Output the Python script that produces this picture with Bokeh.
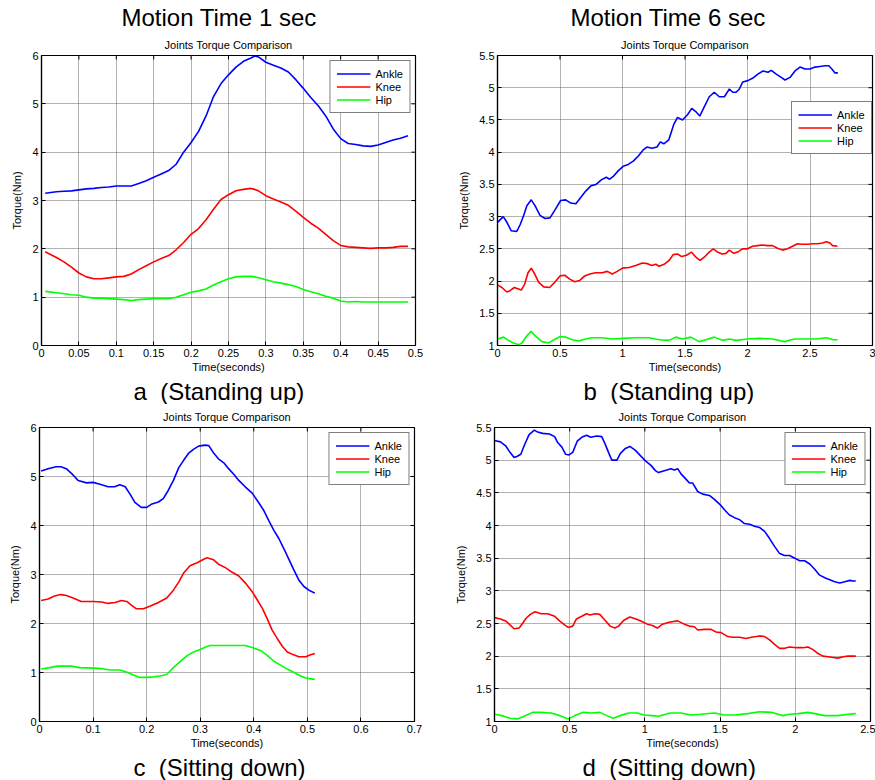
import math
from bokeh.plotting import figure
from bokeh.models import Range1d, FixedTicker, Title, Legend, LegendItem
from bokeh.layouts import column, row
from bokeh.embed import file_html
from bokeh.resources import INLINE

FONT = "Liberation Sans"
SERIES = ["Ankle", "Knee", "Hip"]
COLORS = ["#0000FF", "#FF0000", "#00FF00"]

# ---------------- panel a : Motion Time 1 sec, standing up ----------------
a_t = [0.005, 0.01, 0.02, 0.03, 0.04, 0.05, 0.06, 0.07, 0.08, 0.09, 0.10, 0.11, 0.12, 0.13,
       0.14, 0.15, 0.16, 0.17, 0.18, 0.19, 0.20, 0.21, 0.22, 0.23, 0.24, 0.25, 0.26, 0.27,
       0.28, 0.285, 0.29, 0.30, 0.31, 0.32, 0.33, 0.34, 0.35, 0.36, 0.37, 0.38, 0.39, 0.40,
       0.41, 0.42, 0.43, 0.44, 0.45, 0.46, 0.47, 0.48, 0.49]
a_ankle = [3.15, 3.16, 3.18, 3.19, 3.20, 3.22, 3.24, 3.25, 3.27, 3.28, 3.30, 3.30, 3.30, 3.35,
           3.41, 3.48, 3.55, 3.62, 3.75, 4.00, 4.20, 4.43, 4.75, 5.15, 5.42, 5.60, 5.76, 5.88,
           5.95, 5.99, 5.97, 5.86, 5.80, 5.74, 5.66, 5.50, 5.32, 5.13, 4.96, 4.75, 4.48, 4.28,
           4.18, 4.16, 4.13, 4.12, 4.15, 4.20, 4.25, 4.29, 4.34]
a_knee = [1.94, 1.90, 1.82, 1.73, 1.62, 1.50, 1.42, 1.38, 1.38, 1.40, 1.42, 1.43, 1.48, 1.57,
          1.65, 1.73, 1.80, 1.86, 1.98, 2.13, 2.30, 2.42, 2.60, 2.82, 3.02, 3.12, 3.20, 3.23,
          3.25, 3.23, 3.20, 3.10, 3.03, 2.97, 2.90, 2.78, 2.65, 2.53, 2.43, 2.30, 2.17, 2.07,
          2.04, 2.03, 2.02, 2.01, 2.02, 2.02, 2.03, 2.05, 2.05]
a_hip = [1.12, 1.11, 1.09, 1.07, 1.05, 1.04, 1.00, 0.98, 0.98, 0.97, 0.96, 0.95, 0.93, 0.95,
         0.96, 0.97, 0.97, 0.97, 1.00, 1.05, 1.10, 1.13, 1.17, 1.25, 1.32, 1.38, 1.42, 1.43,
         1.43, 1.42, 1.40, 1.36, 1.32, 1.29, 1.26, 1.22, 1.16, 1.11, 1.07, 1.02, 0.98, 0.92,
         0.90, 0.91, 0.90, 0.90, 0.90, 0.90, 0.90, 0.90, 0.90]
a_xticks = [0, 0.05, 0.1, 0.15, 0.2, 0.25, 0.3, 0.35, 0.4, 0.45, 0.5]
a_yticks = [0, 1, 2, 3, 4, 5, 6]

# ---------------- panel b : Motion Time 6 sec, standing up ----------------
b_ankle_t = [0.0, 0.046, 0.073, 0.11, 0.154, 0.18, 0.21, 0.235, 0.27, 0.30, 0.34, 0.38, 0.42,
             0.465, 0.505, 0.546, 0.586, 0.627, 0.667, 0.708, 0.749, 0.789, 0.83, 0.87, 0.897,
             0.924, 0.965, 1.005, 1.046, 1.086, 1.127, 1.168, 1.195, 1.235, 1.276, 1.303, 1.33,
             1.37, 1.41, 1.44, 1.48, 1.52, 1.554, 1.586, 1.618, 1.653, 1.694, 1.734, 1.774,
             1.815, 1.855, 1.882, 1.909, 1.935, 1.962, 2.003, 2.043, 2.083, 2.124, 2.164, 2.19,
             2.23, 2.27, 2.30, 2.34, 2.38, 2.42, 2.46, 2.50, 2.54, 2.58, 2.62, 2.65, 2.675,
             2.70, 2.723]
b_ankle = [2.91, 3.00, 2.92, 2.78, 2.77, 2.87, 3.02, 3.17, 3.26, 3.17, 3.02, 2.97, 2.98, 3.12,
           3.25, 3.26, 3.21, 3.20, 3.30, 3.40, 3.48, 3.50, 3.57, 3.61, 3.58, 3.62, 3.71, 3.78,
           3.81, 3.86, 3.94, 4.04, 4.08, 4.06, 4.08, 4.16, 4.13, 4.19, 4.43, 4.54, 4.50, 4.58,
           4.68, 4.63, 4.56, 4.70, 4.86, 4.93, 4.86, 4.86, 4.98, 4.93, 4.93, 4.98, 5.09, 5.11,
           5.15, 5.21, 5.26, 5.24, 5.27, 5.21, 5.16, 5.12, 5.16, 5.26, 5.32, 5.29, 5.29, 5.32,
           5.33, 5.34, 5.34, 5.29, 5.23, 5.23]
b_knee_t = [0.0, 0.035, 0.075, 0.10, 0.134, 0.163, 0.19, 0.217, 0.244, 0.27, 0.297, 0.33,
            0.37, 0.417, 0.458, 0.50, 0.538, 0.578, 0.618, 0.658, 0.698, 0.739, 0.784, 0.838,
            0.878, 0.918, 0.958, 1.0, 1.052, 1.105, 1.159, 1.20, 1.234, 1.266, 1.293, 1.333,
            1.373, 1.405, 1.44, 1.474, 1.512, 1.552, 1.587, 1.62, 1.654, 1.689, 1.726, 1.761,
            1.796, 1.828, 1.855, 1.89, 1.92, 1.96, 2.0, 2.04, 2.08, 2.12, 2.16, 2.20, 2.24,
            2.28, 2.32, 2.36, 2.40, 2.44, 2.48, 2.52, 2.56, 2.60, 2.63, 2.66, 2.68, 2.72]
b_knee = [1.94, 1.90, 1.83, 1.85, 1.90, 1.88, 1.86, 1.95, 2.13, 2.20, 2.11, 1.98, 1.91, 1.90,
          1.98, 2.08, 2.09, 2.03, 1.99, 2.01, 2.08, 2.11, 2.13, 2.13, 2.15, 2.11, 2.15, 2.20,
          2.21, 2.24, 2.28, 2.27, 2.24, 2.26, 2.23, 2.26, 2.32, 2.41, 2.42, 2.38, 2.40, 2.45,
          2.37, 2.32, 2.37, 2.44, 2.50, 2.45, 2.42, 2.43, 2.48, 2.43, 2.45, 2.50, 2.50, 2.54,
          2.55, 2.56, 2.55, 2.55, 2.51, 2.48, 2.50, 2.54, 2.58, 2.57, 2.57, 2.58, 2.58, 2.59,
          2.61, 2.59, 2.55, 2.54]
b_hip_t = [0.0, 0.048, 0.088, 0.128, 0.169, 0.195, 0.235, 0.268, 0.302, 0.356, 0.41, 0.463,
           0.503, 0.543, 0.597, 0.65, 0.704, 0.757, 0.837, 0.918, 1.0, 1.105, 1.212, 1.292,
           1.373, 1.426, 1.48, 1.546, 1.613, 1.667, 1.734, 1.80, 1.855, 1.908, 2.0, 2.095,
           2.20, 2.295, 2.375, 2.47, 2.55, 2.63, 2.685, 2.72]
b_hip = [1.10, 1.13, 1.08, 1.04, 1.01, 1.04, 1.15, 1.22, 1.15, 1.06, 1.04, 1.10, 1.14, 1.13,
         1.09, 1.07, 1.10, 1.12, 1.12, 1.10, 1.11, 1.12, 1.12, 1.09, 1.08, 1.13, 1.10, 1.13,
         1.06, 1.09, 1.13, 1.08, 1.10, 1.08, 1.10, 1.11, 1.10, 1.06, 1.10, 1.10, 1.10, 1.12,
         1.09, 1.09]
b_xticks = [0, 0.5, 1, 1.5, 2, 2.5, 3]
b_yticks = [1, 1.5, 2, 2.5, 3, 3.5, 4, 4.5, 5, 5.5]

# ---------------- panel c : Motion Time 1 sec, sitting down ----------------
c_ankle_t = [0.003, 0.016, 0.031, 0.04, 0.05, 0.06, 0.072, 0.088, 0.1, 0.113, 0.128, 0.14,
             0.15, 0.16, 0.169, 0.178, 0.19, 0.2, 0.21, 0.222, 0.231, 0.24, 0.25, 0.26, 0.269,
             0.278, 0.288, 0.297, 0.309, 0.316, 0.325, 0.334, 0.344, 0.353, 0.363, 0.372,
             0.384, 0.397, 0.409, 0.419, 0.428, 0.4375, 0.447, 0.456, 0.466, 0.475, 0.484,
             0.494, 0.503, 0.514]
c_ankle = [5.11, 5.16, 5.20, 5.20, 5.16, 5.06, 4.92, 4.87, 4.88, 4.84, 4.79, 4.79, 4.83, 4.79,
           4.64, 4.47, 4.37, 4.37, 4.44, 4.48, 4.55, 4.71, 4.92, 5.18, 5.33, 5.47, 5.56, 5.62,
           5.64, 5.63, 5.48, 5.36, 5.28, 5.16, 5.04, 4.92, 4.79, 4.66, 4.47, 4.30, 4.10, 3.90,
           3.73, 3.53, 3.30, 3.09, 2.89, 2.75, 2.68, 2.62]
c_knee_t = [0.003, 0.016, 0.028, 0.04, 0.05, 0.0625, 0.078, 0.1, 0.116, 0.128, 0.141, 0.153,
            0.163, 0.172, 0.181, 0.194, 0.206, 0.222, 0.2375, 0.25, 0.26, 0.269, 0.281,
            0.294, 0.303, 0.3125, 0.325, 0.334, 0.347, 0.359, 0.372, 0.384, 0.397, 0.406,
            0.416, 0.425, 0.434, 0.444, 0.453, 0.4625, 0.472, 0.484, 0.497, 0.506, 0.514]
c_knee = [2.47, 2.50, 2.56, 2.59, 2.57, 2.52, 2.45, 2.45, 2.44, 2.41, 2.43, 2.47, 2.45, 2.37,
          2.30, 2.30, 2.35, 2.43, 2.52, 2.68, 2.85, 3.03, 3.18, 3.24, 3.29, 3.34, 3.30, 3.21,
          3.14, 3.05, 2.97, 2.83, 2.65, 2.49, 2.31, 2.10, 1.87, 1.69, 1.54, 1.42, 1.37, 1.32,
          1.32, 1.36, 1.39]
c_hip_t = [0.003, 0.019, 0.034, 0.059, 0.075, 0.1, 0.116, 0.131, 0.15, 0.1625, 0.175, 0.1875,
           0.2, 0.2125, 0.225, 0.2375, 0.25, 0.2625, 0.275, 0.2875, 0.3, 0.3125, 0.319, 0.347,
           0.384, 0.4, 0.4125, 0.425, 0.4375, 0.45, 0.4625, 0.475, 0.4875, 0.5, 0.514]
c_hip = [1.07, 1.10, 1.13, 1.13, 1.10, 1.09, 1.08, 1.05, 1.05, 1.01, 0.95, 0.90, 0.90, 0.91,
         0.93, 0.96, 1.10, 1.22, 1.34, 1.42, 1.47, 1.53, 1.55, 1.55, 1.55, 1.50, 1.45, 1.35,
         1.23, 1.15, 1.07, 1.00, 0.93, 0.88, 0.86]
c_xticks = [0, 0.1, 0.2, 0.3, 0.4, 0.5, 0.6, 0.7]
c_yticks = [0, 1, 2, 3, 4, 5, 6]

# ---------------- panel d : Motion Time 6 sec, sitting down ----------------
d_ankle_t = [0.0, 0.04, 0.074, 0.103, 0.13, 0.152, 0.175, 0.197, 0.23, 0.265, 0.287, 0.32,
             0.365, 0.40, 0.42, 0.448, 0.473, 0.495, 0.52, 0.55, 0.58, 0.612, 0.64, 0.68,
             0.713, 0.735, 0.758, 0.78, 0.814, 0.836, 0.87, 0.90, 0.937, 0.97, 1.004, 1.04,
             1.07, 1.09, 1.173, 1.196, 1.218, 1.24, 1.273, 1.296, 1.318, 1.351, 1.384, 1.429,
             1.462, 1.5, 1.529, 1.562, 1.596, 1.629, 1.662, 1.696, 1.729, 1.762, 1.796, 1.829,
             1.862, 1.896, 1.929, 1.962, 1.996, 2.029, 2.062, 2.096, 2.129, 2.162, 2.196,
             2.229, 2.262, 2.296, 2.329, 2.362, 2.384, 2.402]
d_ankle = [5.30, 5.28, 5.22, 5.12, 5.04, 5.06, 5.09, 5.22, 5.39, 5.46, 5.43, 5.41, 5.40, 5.36,
           5.27, 5.20, 5.09, 5.08, 5.12, 5.29, 5.35, 5.38, 5.35, 5.37, 5.36, 5.25, 5.12, 5.00,
           5.00, 5.10, 5.18, 5.21, 5.15, 5.07, 4.99, 4.92, 4.84, 4.81, 4.87, 4.85, 4.87, 4.79,
           4.71, 4.65, 4.65, 4.52, 4.48, 4.46, 4.40, 4.32, 4.24, 4.16, 4.12, 4.09, 4.03, 4.02,
           3.99, 3.97, 3.91, 3.80, 3.68, 3.57, 3.54, 3.54, 3.50, 3.46, 3.46, 3.41, 3.33, 3.24,
           3.20, 3.17, 3.14, 3.12, 3.14, 3.16, 3.15, 3.15]
d_knee_t = [0.0, 0.04, 0.074, 0.103, 0.13, 0.164, 0.186, 0.21, 0.238, 0.27, 0.31, 0.354, 0.40,
            0.433, 0.466, 0.49, 0.52, 0.545, 0.58, 0.612, 0.635, 0.668, 0.70, 0.735, 0.769,
            0.80, 0.825, 0.86, 0.90, 0.95, 0.98, 1.016, 1.05, 1.083, 1.117, 1.16, 1.218,
            1.262, 1.296, 1.329, 1.351, 1.396, 1.44, 1.473, 1.507, 1.551, 1.584, 1.629, 1.673,
            1.707, 1.74, 1.762, 1.796, 1.829, 1.862, 1.896, 1.929, 1.962, 2.007, 2.051, 2.084,
            2.118, 2.151, 2.184, 2.218, 2.251, 2.284, 2.318, 2.351, 2.384, 2.402]
d_knee = [2.59, 2.57, 2.54, 2.48, 2.42, 2.43, 2.50, 2.58, 2.64, 2.68, 2.65, 2.65, 2.61, 2.54,
          2.48, 2.44, 2.46, 2.57, 2.61, 2.65, 2.63, 2.65, 2.64, 2.55, 2.46, 2.43, 2.46, 2.55,
          2.60, 2.56, 2.53, 2.49, 2.47, 2.43, 2.49, 2.52, 2.54, 2.49, 2.46, 2.45, 2.40, 2.41,
          2.41, 2.37, 2.36, 2.30, 2.29, 2.29, 2.27, 2.29, 2.30, 2.31, 2.30, 2.25, 2.18, 2.12,
          2.12, 2.14, 2.13, 2.13, 2.14, 2.10, 2.04, 2.00, 1.99, 1.98, 1.97, 1.99, 2.00, 2.00,
          2.00]
d_hip_t = [0.0, 0.05, 0.103, 0.152, 0.197, 0.253, 0.31, 0.377, 0.433, 0.49, 0.534, 0.59,
           0.646, 0.70, 0.747, 0.79, 0.836, 0.892, 0.95, 0.993, 1.05, 1.09, 1.15, 1.173, 1.24,
           1.307, 1.373, 1.462, 1.529, 1.596, 1.684, 1.762, 1.84, 1.918, 1.962, 2.018, 2.084,
           2.129, 2.196, 2.284, 2.351, 2.402]
d_hip = [1.11, 1.09, 1.05, 1.04, 1.08, 1.14, 1.14, 1.13, 1.09, 1.04, 1.09, 1.14, 1.13, 1.14,
         1.09, 1.05, 1.09, 1.13, 1.13, 1.10, 1.09, 1.08, 1.12, 1.13, 1.13, 1.10, 1.11, 1.13,
         1.10, 1.10, 1.12, 1.15, 1.14, 1.09, 1.11, 1.12, 1.14, 1.12, 1.09, 1.09, 1.11, 1.12]
d_xticks = [0, 0.5, 1, 1.5, 2, 2.5]
d_yticks = [1, 1.5, 2, 2.5, 3, 3.5, 4, 4.5, 5, 5.5]


def fmt(v):
    return f"{v:g}"


def make_panel(top_title, bottom_title, xr, yr, xticks, yticks, data, size, borders,
               legend_loc, top_off, bottom_off, sub_standoff):
    w, h = size
    bl, br, bt, bb = borders
    p = figure(width=w, height=h, x_range=Range1d(*xr), y_range=Range1d(*yr),
               output_backend="svg", toolbar_location=None, title=None,
               min_border_left=bl, min_border_right=br, min_border_top=bt,
               min_border_bottom=bb, background_fill_color="white",
               border_fill_color="white")
    p.outline_line_color = "black"
    p.outline_line_width = 1.2
    xt = FixedTicker(ticks=xticks)
    yt = FixedTicker(ticks=yticks)
    for ax, t, ticks in ((p.xaxis[0], xt, xticks), (p.yaxis[0], yt, yticks)):
        ax.ticker = t
        ax.major_label_overrides = {v: fmt(v) for v in ticks}
        ax.major_tick_in = 4
        ax.major_tick_out = 0
        ax.minor_tick_line_color = None
        ax.axis_line_color = "black"
        ax.axis_line_width = 1.2
        ax.major_tick_line_color = "black"
        ax.major_label_text_font = FONT
        ax.major_label_text_font_size = "11px"
        ax.major_label_text_color = "black"
        ax.axis_label_text_font = FONT
        ax.axis_label_text_font_size = "11px"
        ax.axis_label_text_font_style = "normal"
        ax.axis_label_text_color = "black"
    p.xaxis[0].axis_label = "Time(seconds)"
    p.xaxis[0].major_label_standoff = 3
    p.xaxis[0].axis_label_standoff = 1
    p.yaxis[0].axis_label = "Torque(Nm)"
    p.yaxis[0].major_label_standoff = 3
    p.yaxis[0].axis_label_standoff = 6
    for g, t in ((p.xgrid[0], xt), (p.ygrid[0], yt)):
        g.ticker = t
        g.grid_line_color = "#555555"
        g.grid_line_dash = "1 1"
        g.grid_line_alpha = 0.9
    # box-style inward tick marks on the top and right edges (half clipped by the frame)
    p.scatter(xticks, [yr[1]] * len(xticks), marker="dash", size=8, angle=math.pi / 2,
              line_color="black", line_width=1)
    p.scatter([xr[1]] * len(yticks), yticks, marker="dash", size=8,
              line_color="black", line_width=1)
    items = []
    for name, color, (xs, ys) in zip(SERIES, COLORS, data):
        r = p.line(xs, ys, line_color=color, line_width=1.6)
        items.append(LegendItem(label=name, renderers=[r]))
    leg = Legend(items=items, location=legend_loc)
    leg.label_text_font = FONT
    leg.label_text_font_size = "11px"
    leg.label_text_color = "black"
    leg.glyph_width = 34
    leg.glyph_height = 13
    leg.label_height = 13
    leg.label_standoff = 5
    leg.spacing = 0
    leg.padding = 6
    leg.margin = 5 if isinstance(legend_loc, str) else 0
    leg.border_line_color = "black"
    leg.border_line_width = 1.5
    leg.background_fill_alpha = 1.0
    p.add_layout(leg)
    p.add_layout(Title(text="Joints Torque Comparison", text_font=FONT,
                       text_font_size="11px", text_font_style="normal", align="center",
                       text_color="black", standoff=sub_standoff), "above")
    if top_title:
        p.add_layout(Title(text=top_title, text_font=FONT, text_font_size="24px",
                           text_font_style="normal", align="left", offset=top_off,
                           text_color="black", standoff=2), "above")
    p.add_layout(Title(text=bottom_title, text_font=FONT, text_font_size="24px",
                       text_font_style="normal", align="left", offset=bottom_off,
                       text_color="black", standoff=0), "below")
    return p


pa = make_panel("Motion Time 1 sec", "a\u00a0\u00a0(Standing up)", (0, 0.5), (0, 6),
                a_xticks, a_yticks,
                [(a_t, a_ankle), (a_t, a_knee), (a_t, a_hip)],
                (437, 404), (41, 22, 55, 56), "top_right", 80, 92, 10)
pb = make_panel("Motion Time 6 sec", "b\u00a0\u00a0(Standing up)", (0, 3), (1, 5.5),
                b_xticks, b_yticks,
                [(b_ankle_t, b_ankle), (b_knee_t, b_knee), (b_hip_t, b_hip)],
                (438, 404), (60, 3, 55, 56), (294, 191), 73, 86, 10)
pc = make_panel(None, "c\u00a0\u00a0(Sitting down)", (0, 0.7), (0, 6),
                c_xticks, c_yticks,
                [(c_ankle_t, c_ankle), (c_knee_t, c_knee), (c_hip_t, c_hip)],
                (437, 376), (39, 23, 22, 58), "top_right", 0, 94, 9)
pd = make_panel(None, "d\u00a0\u00a0(Sitting down)", (0, 2.5), (1, 5.5),
                d_xticks, d_yticks,
                [(d_ankle_t, d_ankle), (d_knee_t, d_knee), (d_hip_t, d_hip)],
                (438, 376), (57, 5, 22, 58), "top_right", 0, 88, 9)

layout = column(row(pa, pb, spacing=0), row(pc, pd, spacing=0), spacing=0)
open("out.html", "w").write(file_html(layout, INLINE))
